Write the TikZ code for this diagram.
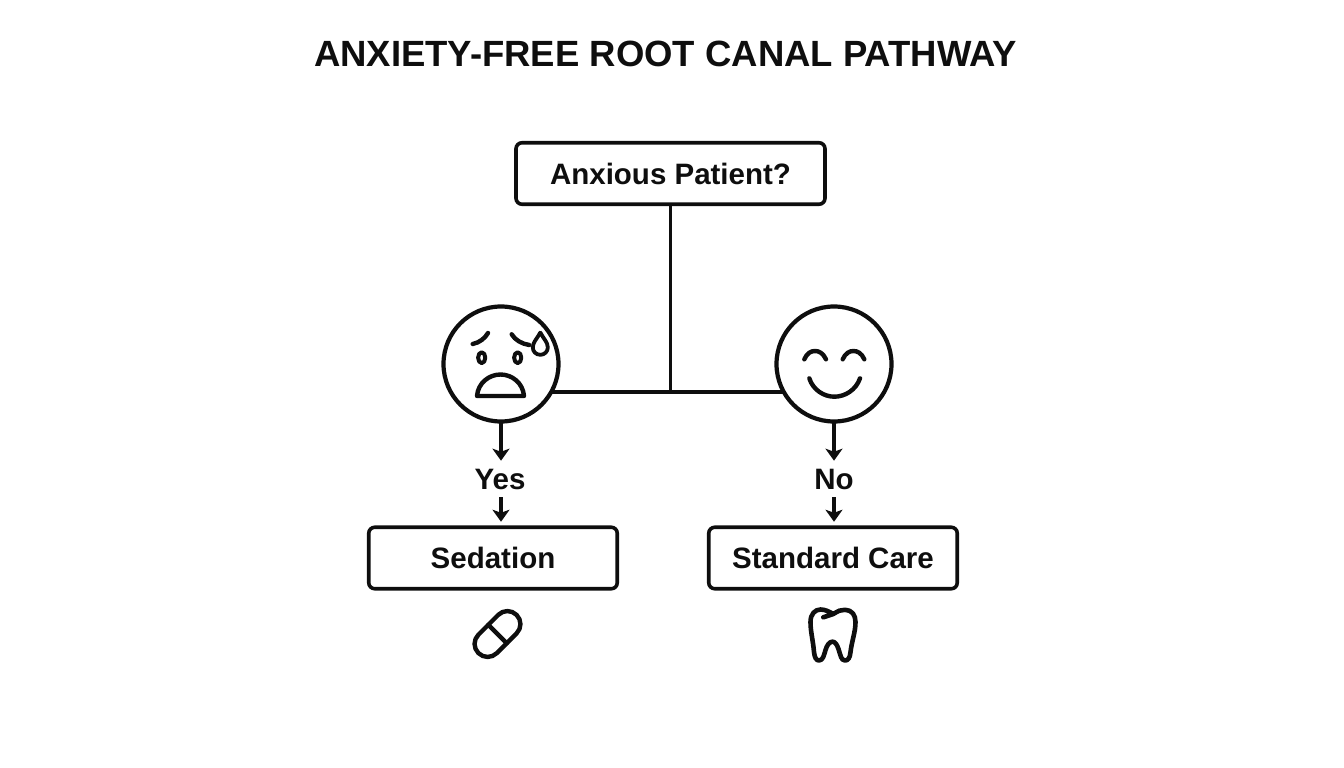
\documentclass[tikz,border=0pt]{standalone}
\usepackage{xcolor}
\usepackage{fontspec}
\setmainfont{Liberation Sans}
\usepackage{tikz}
\usetikzlibrary{positioning,arrows.meta}

\begin{document}
\begin{tikzpicture}[
    x=1pt, y=-1pt,
    node distance=20pt,
    stepbox/.style={rectangle, draw=ink, line width=3.6pt, minimum width=309pt, minimum height=61.5pt, text centered, rounded corners=6pt, font=\fontsize{29.5}{34}\selectfont\bfseries, text=ink, outer sep=0pt},
    carebox/.style={stepbox, minimum width=248.5pt},
    face/.style={circle, draw=ink, line width=4.2pt, minimum size=115pt, inner sep=0pt, outer sep=0pt},
    answer/.style={font=\fontsize{29.5}{34}\selectfont\bfseries, text=ink, inner sep=0pt, outer sep=0pt},
    link/.style={draw=ink, line width=3.8pt},
    flow/.style={link, -{Stealth[length=12pt, width=17pt, inset=3pt]}},
    icon/.style={draw=ink, line width=4.4pt, line cap=round, line join=round}
]
    \definecolor{ink}{HTML}{0E0E0E}
    \useasboundingbox (0,0) rectangle (1344,768);

    \node[font=\fontsize{36.5}{42}\selectfont\bfseries, text=ink] (title) at (665.5,54) {ANXIETY-FREE ROOT CANAL PATHWAY};

    \node[stepbox] (patient) at (670.5,173.5) {Anxious Patient?};
    \node[face] (sad) at (501,364) {};
    \node[face, right=218pt of sad] (happy) {};
    \node[carebox] (sedation) at (493,558) {Sedation};
    \node[carebox] (standard) at (833,558) {Standard Care};
    \node[answer] (yes) at (500,479) {Yes};
    \node[answer] (no) at (834,479) {No};
    \coordinate (split) at (patient |- 0,392);

    % tree from the question to both faces
    \draw[link] (sad.-29) -- (happy.209);
    \draw[link] (patient.south) -- (split);

    \draw[flow, shorten >=8pt] (sad.south) -- (sad |- yes.north);
    \draw[flow, shorten >=8pt] (happy.south) -- (happy |- no.north);
    \draw[flow, shorten <=8pt, shorten >=5.5pt] (sad |- yes.south) -- (sad |- sedation.north);
    \draw[flow, shorten <=8pt, shorten >=5.5pt] (happy |- no.south) -- (happy |- standard.north);

    % worried face
    \draw[icon] (472.7,344) .. controls (480,342.5) and (485,338) .. (488,333);
    \draw[icon] (511.7,334.3) .. controls (515,340) and (522,344) .. (529.3,345);
    \draw[icon, line width=4pt] (481.7,357.7) ellipse (3.6 and 5.4);
    \draw[icon, line width=4pt] (517.7,357.7) ellipse (3.6 and 5.4);
    \draw[icon, line width=3.8pt] (540.3,332.5) .. controls (537,339) and (532.8,342) .. (532.8,347.5) .. controls (532.8,351.5) and (536,354.8) .. (540.3,354.8) .. controls (544.6,354.8) and (547.8,351.5) .. (547.8,347.5) .. controls (547.8,342) and (543.6,339) .. (540.3,332.5);
    \draw[icon] (477,396) .. controls (478,383) and (489,374.5) .. (500.5,374.5) .. controls (512,374.5) and (523,383) .. (524,396) -- cycle;

    % calm face
    \draw[icon] (804.3,359.3) .. controls (807,353) and (811,351) .. (815,351) .. controls (819,351) and (823,353) .. (826,359.3);
    \draw[icon] (842.7,359.3) .. controls (845.5,353) and (849.5,351) .. (853.3,351) .. controls (857.5,351) and (861.5,353) .. (864.3,359.3);
    \draw[icon] (809.3,378.3) .. controls (813,390) and (824,396.7) .. (834.3,396.7) .. controls (845,396.7) and (856,390) .. (860,378.3);

    % pill
    \begin{scope}[shift={(497.5,634)}, rotate=45]
        \draw[icon, rounded corners=12.9pt] (-27,-13) rectangle (27,13);
        \draw[icon] (0,-13) -- (0,13);
    \end{scope}

    % tooth
    \draw[icon, line width=4.6pt] (823.3,617.3) -- (833.3,614) .. controls (838,611) and (841,609.5) .. (845,609.8) .. controls (852,610) and (855.5,615) .. (855.5,622) .. controls (855.5,632) and (852,640) .. (850.5,652) .. controls (850,658) and (848,660.5) .. (845,660.5) .. controls (841,660.5) and (840.5,655) .. (838.5,649) .. controls (837,644.5) and (835,641.7) .. (832.5,641.7) .. controls (829.5,641.7) and (827,645) .. (825.5,650) .. controls (824,655) and (823,660.5) .. (819,660.5) .. controls (816,660.5) and (814.5,657) .. (814,652) .. controls (813,640) and (810.5,632) .. (810.5,622) .. controls (810.5,614) and (815,609.5) .. (820.5,609.5) .. controls (825,609.5) and (829,611.5) .. (833.3,614);
\end{tikzpicture}
\end{document}
